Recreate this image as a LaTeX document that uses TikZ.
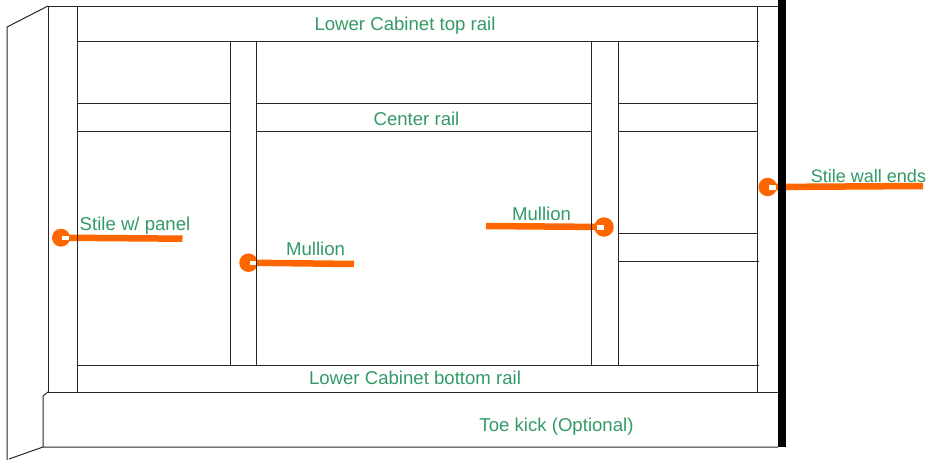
\documentclass[tikz,border=0pt]{standalone}
\usepackage{fontspec}
\setmainfont{Liberation Sans}
\definecolor{lbl}{HTML}{339966}
\definecolor{org}{HTML}{FF6600}
\tikzset{
  x=1pt,y=-1pt,
  wood/.style={draw=black!85,line width=1pt},
  lbltext/.style={text=lbl,font=\fontsize{18.6}{20}\selectfont,inner sep=0pt,anchor=center},
  dot/.style={circle,fill=org,draw=none,inner sep=0pt,minimum size=#1},
  lead/.style={draw=org,line width=6.5pt},
  notch/.style={fill=white,draw=none},
  wall/.style={fill=black,draw=none}
}
\begin{document}
\begin{tikzpicture}
\useasboundingbox (0,0) rectangle (928,460);
% callouts
\node[dot=18pt] (d1) at (61,237.7) {};
\coordinate (e1) at (182.5,238.7);
\draw[lead] (d1.center) -- (e1);
\fill[notch] (62,235.7) rectangle (69,240);
\node[dot=18.5pt] (d2) at (248.5,262.7) {};
\coordinate (e2) at (354,264);
\draw[lead] (d2.center) -- (e2);
\fill[notch] (249.5,260.7) rectangle (256,264.7);
\node[dot=19.5pt] (d3) at (604,227) {};
\coordinate (e3) at (486,226);
\draw[lead] (d3.center) -- (e3);
\fill[notch] (597,224.5) rectangle (604,229.7);
\node[dot=18.5pt] (d4) at (767.7,187) {};
\coordinate (e4) at (923,186);
\draw[lead] (d4.center) -- (e4);
\fill[notch] (769,185) rectangle (776,189.5);
% outer side panel
\draw[wood] (48,6) -- (7,27) -- (7,460);
\draw[wood] (9,459) -- (43,447);
\draw[wood] (48,392) -- (43,396) -- (43,447) -- (778,447);
% stiles
\draw[wood] (48,6) -- (48,392);
\draw[wood] (77,6) -- (77,392);
\draw[wood] (757.5,6) -- (757.5,392);
% rails
\draw[wood] (48,6.5) -- (778,6.5);
\draw[wood] (77,41.5) -- (759,41.5);
\draw[wood] (77,365.5) -- (759,365.5);
\draw[wood] (48,392.5) -- (778,392.5);
% mullions
\draw[wood] (230,41.5) -- (230,365.5);
\draw[wood] (256.5,41.5) -- (256.5,365.5);
\draw[wood] (591.5,41.5) -- (591.5,365.5);
\draw[wood] (618,41.5) -- (618,365.5);
% centre rails
\foreach \y in {103.5,131.5}{
  \draw[wood] (77,\y) -- (230,\y);
  \draw[wood] (256.5,\y) -- (591.5,\y);
  \draw[wood] (618,\y) -- (758,\y);
}
% right section rail
\draw[wood] (618,233.5) -- (757.5,233.5);
\draw[wood] (618,261.5) -- (759,261.5);
% wall edge
\fill[wall] (778,0) rectangle (786,447);
% labels
\node[lbltext] (t1) at (405,25.5) {Lower Cabinet top rail};
\node[lbltext] (t2) at (416.5,118.5) {Center rail};
\node[lbltext] (t3) at (415,378) {Lower Cabinet bottom rail};
\node[lbltext] (t4) at (556.5,426.5) {Toe kick (Optional)};
\node[lbltext] (t5) at (135,225.5) {Stile w/ panel};
\node[lbltext] (t6) at (315.5,249) {Mullion};
\node[lbltext] (t7) at (541.5,214) {Mullion};
\node[lbltext,font=\fontsize{18}{20}\selectfont] (t8) at (868.5,176) {Stile wall ends};
\end{tikzpicture}
\end{document}
